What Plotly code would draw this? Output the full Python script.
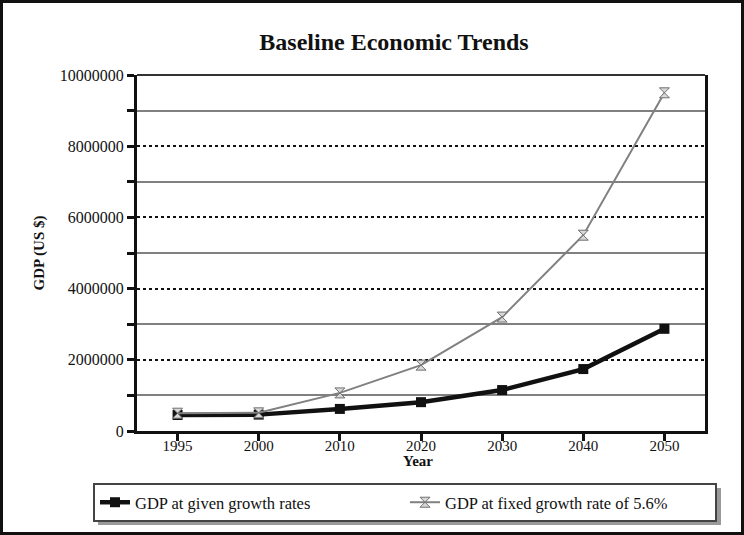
import plotly.graph_objects as go

years = ["1995", "2000", "2010", "2020", "2030", "2040", "2050"]
gdp_given = [450000, 460000, 620000, 810000, 1150000, 1740000, 2870000]
gdp_fixed = [500000, 510000, 1070000, 1850000, 3200000, 5500000, 9500000]
name_given = "GDP at given growth rates"
name_fixed = "GDP at fixed growth rate of 5.6%"

FONT = "Liberation Serif"
W, H = 744, 535
ML, MR, MT, MB = 137, 39, 75, 104
pw, ph = W - ML - MR, H - MT - MB

def px2paper_x(px):
    return (px - ML) / pw

def px2paper_y(py):
    return (H - MB - py) / ph

fig = go.Figure()
fig.add_trace(go.Scatter(
    x=years, y=gdp_given, name=name_given, mode="lines+markers",
    line=dict(color="#111111", width=4.5),
    marker=dict(symbol="square", size=10, color="#111111"),
))
fig.add_trace(go.Scatter(
    x=years, y=gdp_fixed, name=name_fixed, mode="lines+markers",
    line=dict(color="#808080", width=2),
    marker=dict(symbol="hourglass", size=10, color="#d8d8d8",
                line=dict(color="#707070", width=1)),
))

fig.update_layout(
    width=W, height=H,
    margin=dict(l=ML, r=MR, t=MT, b=MB, autoexpand=False),
    paper_bgcolor="white", plot_bgcolor="white",
    font=dict(family=FONT, size=15, color="#111111"),
    title=dict(text="<b>Baseline Economic Trends</b>", x=394 / W, xref="container",
               xanchor="center", y=1 - 42 / H, yref="container", yanchor="middle",
               font=dict(family=FONT, size=24, color="#111111")),
    showlegend=True,
    legend=dict(orientation="h", x=px2paper_x(93), y=px2paper_y(483),
                xanchor="left", yanchor="top",
                bordercolor="#444444", borderwidth=2, bgcolor="white",
                entrywidth=265, entrywidthmode="pixels",
                font=dict(family=FONT, size=16.5, color="#111111"),
                itemwidth=30, tracegroupgap=0),
    xaxis=dict(
        type="category", range=[-0.5, 6.5],
        showline=True, linecolor="#111111", linewidth=3,
        ticks="outside", ticklen=7, tickwidth=3, tickcolor="#111111",
        ticklabelstandoff=-8,
        showgrid=False, zeroline=False,
        tickfont=dict(family=FONT, size=15, color="#111111"),
    ),
    yaxis=dict(
        range=[0, 10000000], dtick=2000000, tick0=0,
        showline=True, linecolor="#111111", linewidth=3, mirror=True,
        ticks="outside", ticklen=7, tickwidth=3, tickcolor="#111111",
        showgrid=True, gridcolor="#111111", gridwidth=1.5, griddash="3px,3px",
        minor=dict(dtick=1000000, showgrid=True, gridcolor="#808080", gridwidth=1.5,
                   griddash="solid",
                   ticks="outside", ticklen=7, tickwidth=3, tickcolor="#111111"),
        zeroline=False, tickformat="d",
        title=dict(text="<b>GDP (US $)</b>", standoff=12, font=dict(family=FONT, size=15)),
        tickfont=dict(family=FONT, size=16, color="#111111"),
    ),
    annotations=[
        dict(text="<b>Year</b>", xref="paper", yref="paper",
             x=px2paper_x(418), y=px2paper_y(461), xanchor="center", yanchor="middle",
             showarrow=False, font=dict(family=FONT, size=15, color="#111111")),
    ],
    shapes=[
        dict(type="line", xref="paper", yref="paper", x0=0, x1=1, y0=1, y1=1,
             line=dict(color="#333333", width=2)),
        dict(type="rect", xref="paper", yref="paper",
             x0=px2paper_x(1.5), x1=px2paper_x(742.5),
             y0=px2paper_y(533.5), y1=px2paper_y(1.5),
             line=dict(color="#111111", width=3), layer="below"),
        dict(type="rect", xref="paper", yref="paper",
             x0=px2paper_x(98), x1=px2paper_x(721),
             y0=px2paper_y(525), y1=px2paper_y(488),
             fillcolor="#9a9a9a", line=dict(width=0), layer="above"),
    ],
)

fig.write_html("out.html")
